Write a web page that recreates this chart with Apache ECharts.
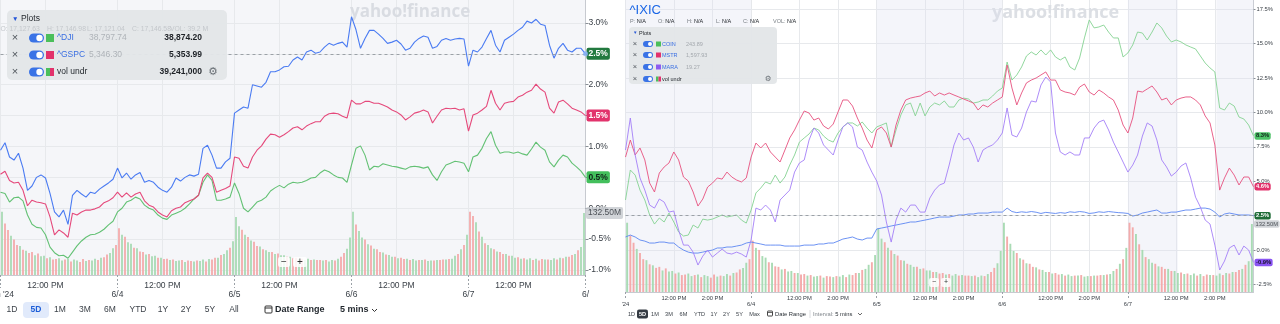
<!DOCTYPE html>
<html>
<head>
<meta charset="utf-8">
<title>Yahoo Finance comparison charts</title>
<script src="https://cdn.jsdelivr.net/npm/echarts@6.0.0/dist/echarts.min.js"></script>
<style>
html,body{margin:0;padding:0;background:#ffffff;overflow:hidden;}
#chart{width:1280px;height:324px;}
</style>
</head>
<body>
<div id="chart"></div>
<script>
// ================= DATA =================
const dayLabelsLeft = ["Jun '24", '6/4', '6/5', '6/6', '6/7', '6/'];
const dayLabelsRight = ["'24", '6/4', '6/5', '6/6', '6/7'];
const timeLabelsLeft = ['12:00 PM'];
const timeLabelsRight = ['12:00 PM', '2:00 PM'];
const pctTicksLeft = [-1, -0.5, 0, 0.5, 1, 1.5, 2, 2.5, 3];
const pctTicksRight = [-2.5, 0, 2.5, 5, 7.5, 10, 12.5, 15, 17.5];

// % change, one value every 15 minutes (26 per session, 5 sessions + close)
const leftIXIC = [
  0.94,1.06,0.83,0.78,0.89,0.65,0.29,0.36,0.50,0.54,0.49,0.24,-0.06,-0.14,-0.03,-0.26,0.21,0.29,0.23,0.18,0.26,0.24,0.31,0.36,0.41,0.47,0.65,
  0.49,0.57,0.47,0.54,0.58,0.42,0.45,0.42,0.34,0.29,0.26,0.34,0.49,0.44,0.50,0.54,0.52,0.55,0.97,1.02,0.86,0.65,0.65,0.75,0.81,1.54,
  1.59,1.64,1.62,2.00,1.98,1.96,2.04,2.21,2.21,2.24,2.29,2.30,2.40,2.45,2.40,2.53,2.56,2.51,2.53,2.61,2.67,2.64,2.67,2.69,2.61,3.10,
  2.89,2.59,2.75,2.88,2.88,2.82,2.75,2.67,2.69,2.72,2.66,2.56,2.59,2.69,2.75,2.79,2.77,2.59,2.62,2.72,2.75,2.72,2.74,2.75,2.74,2.30,
  2.56,2.53,2.61,2.75,2.88,2.64,2.53,2.72,2.77,2.82,2.88,2.93,3.03,3.00,3.06,2.98,2.96,2.64,2.43,2.59,2.67,2.56,2.53,2.59,2.59,2.50
];
const leftGSPC = [
  0.55,0.60,0.45,0.41,0.42,0.29,0.04,0.13,0.10,0.09,0.07,-0.14,-0.43,-0.35,-0.40,-0.47,-0.08,-0.11,-0.06,-0.03,-0.03,-0.01,0.02,0.09,0.12,0.17,0.26,
  0.18,0.25,0.18,0.23,0.26,0.12,0.05,0.02,-0.06,-0.11,-0.14,-0.04,0.00,0.02,0.09,0.12,0.15,0.21,0.49,0.57,0.50,0.26,0.29,0.32,0.36,0.83,
  0.81,0.68,0.65,0.83,0.94,1.01,1.12,1.20,1.19,1.15,1.19,1.24,1.30,1.32,1.27,1.33,1.37,1.40,1.40,1.49,1.53,1.54,1.53,1.49,1.46,1.75,
  1.69,1.69,1.73,1.73,1.70,1.70,1.67,1.64,1.59,1.56,1.51,1.43,1.48,1.54,1.56,1.59,1.56,1.38,1.49,1.59,1.62,1.61,1.62,1.59,1.61,1.25,
  1.51,1.54,1.59,1.65,1.91,1.70,1.59,1.70,1.72,1.73,1.80,1.83,1.88,1.91,2.01,1.93,1.88,1.62,1.54,1.72,1.75,1.69,1.62,1.59,1.56,1.50
];
const leftDJI = [
  0.26,0.24,0.10,0.17,0.18,0.12,-0.11,-0.26,-0.31,-0.32,-0.43,-0.63,-0.72,-0.77,-0.76,-0.81,-0.71,-0.61,-0.53,-0.47,-0.43,-0.42,-0.39,-0.34,-0.27,-0.21,-0.06,
  0.00,0.10,0.13,0.18,0.15,0.05,0.00,-0.03,-0.11,-0.16,-0.18,-0.11,-0.08,-0.05,0.00,0.07,0.15,0.21,0.42,0.54,0.45,0.13,0.13,0.15,0.18,0.41,
  0.24,0.00,-0.06,0.02,0.10,0.13,0.18,0.28,0.33,0.37,0.33,0.39,0.42,0.41,0.42,0.45,0.49,0.50,0.57,0.62,0.59,0.54,0.50,0.49,0.42,0.70,
  0.97,1.01,0.86,0.62,0.68,0.67,0.72,0.70,0.68,0.67,0.65,0.63,0.67,0.68,0.67,0.65,0.67,0.54,0.45,0.59,0.70,0.73,0.76,0.75,0.73,0.59,
  0.83,0.86,0.97,1.13,1.24,1.02,0.89,0.91,0.91,0.89,0.91,0.88,0.86,0.96,1.07,0.99,0.94,0.75,0.67,0.78,0.86,0.83,0.73,0.67,0.60,0.50
];
const rightIXIC = [
  0.95,1.09,0.95,0.73,0.65,0.51,0.51,0.58,0.58,0.51,0.51,0.22,0.00,-0.15,-0.22,-0.22,-0.15,-0.07,0.00,0.15,0.15,0.22,0.22,0.29,0.36,0.51,0.58,
  0.51,0.44,0.36,0.36,0.36,0.36,0.29,0.29,0.29,0.29,0.36,0.36,0.36,0.44,0.44,0.51,0.51,0.65,0.80,0.87,0.95,0.80,0.73,0.87,0.87,1.53,
  1.60,1.67,1.75,1.82,1.89,1.96,2.04,2.04,2.11,2.18,2.25,2.33,2.40,2.40,2.40,2.47,2.55,2.55,2.62,2.62,2.69,2.69,2.69,2.76,2.76,2.76,
  3.05,2.80,2.72,2.78,2.74,2.80,2.75,2.66,2.74,2.70,2.66,2.72,2.68,2.78,2.74,2.80,2.76,2.66,2.70,2.78,2.74,2.80,2.76,2.72,2.70,2.66,
  2.47,2.55,2.69,2.76,2.84,2.91,2.69,2.69,2.76,2.76,2.84,2.91,2.91,2.98,3.05,3.05,2.98,2.76,2.40,2.62,2.69,2.62,2.55,2.55,2.55,2.50
];
const rightCOIN = [
  3.64,5.82,5.45,4.36,3.64,2.55,1.89,2.33,2.04,2.69,2.04,1.31,1.02,1.09,1.82,1.60,2.25,2.18,2.25,2.40,2.55,2.40,2.47,2.55,2.18,1.96,2.91,
  4.15,4.51,4.95,4.80,5.45,4.87,5.31,6.18,6.91,7.85,8.15,8.44,8.87,8.73,8.29,8.00,7.85,8.51,8.95,9.24,9.24,9.02,9.31,8.87,8.51,8.95,
  9.09,9.24,7.49,8.73,9.82,10.55,10.69,9.75,10.69,9.75,10.40,10.69,10.55,10.84,10.40,10.40,10.91,11.05,10.98,10.69,10.76,10.91,10.91,11.20,11.56,11.78,
  13.67,12.36,12.73,13.31,14.11,14.40,14.18,14.55,14.18,14.55,14.04,13.82,14.04,13.31,13.09,13.96,15.42,16.73,16.15,16.22,16.36,15.85,15.42,15.42,14.04,14.33,
  14.91,15.85,15.78,15.27,15.85,16.51,16.15,15.56,15.13,15.27,15.13,14.91,14.76,14.62,14.11,13.60,13.24,12.95,10.33,10.18,10.69,10.47,9.67,9.53,9.09,8.30
];
const rightMSTR = [
  6.76,8.00,6.91,7.42,6.55,4.87,4.22,5.60,6.04,6.33,7.13,6.55,5.31,5.02,4.22,3.20,3.71,4.58,4.87,5.24,5.16,5.67,5.31,5.09,4.95,5.24,6.76,
  7.78,7.42,7.78,7.13,6.76,6.40,7.27,8.15,8.73,9.45,10.11,9.96,9.45,9.60,9.02,8.80,9.16,10.04,10.91,10.91,10.47,9.60,8.87,8.00,7.42,8.73,
  8.95,8.51,7.49,9.09,10.18,10.91,11.05,11.13,11.20,11.42,11.56,11.20,11.42,11.27,11.42,11.27,11.13,10.98,10.84,10.69,10.18,10.55,10.40,10.69,10.91,11.13,
  13.45,11.78,10.55,11.42,12.15,12.36,12.51,12.73,12.95,12.36,12.36,11.64,11.49,11.42,11.27,11.85,12.07,11.49,11.27,11.64,11.42,11.13,10.91,10.18,9.09,8.51,
  9.60,11.56,11.49,11.71,11.93,11.49,10.91,11.05,10.55,10.91,11.05,11.13,11.13,10.91,10.55,9.75,9.24,7.64,4.36,5.24,5.96,5.45,4.73,5.31,5.31,4.60
];
const rightMARA = [
  7.27,9.60,6.91,5.24,4.36,3.27,3.05,3.71,3.49,2.76,2.84,1.45,0.36,0.36,-0.15,-1.09,-0.44,0.00,-0.51,-0.22,0.07,-0.22,-0.29,-0.15,-0.29,-0.51,0.73,
  3.05,2.91,3.27,2.91,2.04,3.64,4.00,4.36,5.67,6.33,6.55,8.00,8.87,8.51,7.64,7.27,6.91,8.00,8.95,9.24,8.95,7.49,7.27,6.40,5.67,5.02,
  4.00,2.04,0.58,2.18,3.05,2.76,3.27,3.27,2.76,2.76,3.78,4.36,4.73,4.87,6.18,7.64,8.51,8.00,8.15,7.49,6.40,7.27,7.49,7.64,8.00,8.51,
  10.33,8.36,8.22,8.87,10.04,10.84,10.76,12.00,12.58,12.22,8.51,7.13,6.91,7.13,6.91,6.91,8.15,8.15,8.87,9.31,9.45,8.73,7.85,7.13,6.40,5.67,
  6.18,6.91,8.29,9.24,9.02,8.00,6.55,6.04,5.38,5.67,6.11,6.33,5.24,3.85,3.13,2.18,1.89,0.36,-1.45,-0.80,0.15,0.36,-0.36,0.29,0.00,-0.90
];
// volume (millions of shares) per 10-minute slot, 39 per session
const volume = [
  135,110,96,84,76,64,62,54,52,47,49,42,46,40,41,36,38,33,34,36,31,33,34,29,33,31,28,34,30,32,31,35,32,37,38,44,47,57,64,
  100,86,82,70,67,58,57,50,49,44,45,40,41,37,37,34,35,32,33,30,31,32,28,31,30,29,31,30,33,29,34,33,37,37,43,45,53,58,72,
  124,104,97,86,81,74,71,62,61,55,53,49,49,45,46,42,42,39,39,36,37,34,35,32,35,32,33,32,32,31,32,29,32,31,35,39,47,56,80,
  135,108,94,80,76,66,63,56,55,49,48,44,43,39,39,36,37,34,35,32,34,31,32,32,33,30,31,31,32,32,33,33,34,35,41,45,55,64,86,
  135,126,113,93,82,68,64,57,55,50,49,45,45,41,41,37,38,35,36,33,36,32,35,31,34,33,33,32,36,33,37,36,39,39,43,45,53,60,132.5
];
// 1 = up bar (green), 0 = down bar (red)
const volumeUp =
  '100100101001011010011010110010110100110' +
  '010110100101101001011010010110100101101' +
  '110101001011010110100101101001011010011' +
  '101101010010110100101101011010010110101' +
  '001010110100101101011010010110101001011';

const legendLeft = [
  { name: '^DJI', prev: '38,797.74', last: '38,874.20', sw: ['#4bbf5b'] },
  { name: '^GSPC', prev: '5,346.30', last: '5,353.99', sw: ['#e2326c'] },
  { name: 'vol undr', prev: '', last: '39,241,000', sw: ['#4bbf5b', '#e2326c'], gear: true }
];
const ohlcLeft = ['O: 17,127.63', 'H: 17,146.98', 'L: 17,121.04', 'C: 17,146.58', 'VOL: 39.2 M'];
const legendRight = [
  { name: 'COIN', prev: '243.89', sw: ['#4bbf5b'] },
  { name: 'MSTR', prev: '1,597.93', sw: ['#e2326c'] },
  { name: 'MARA', prev: '19.27', sw: ['#8e5cf0'] },
  { name: 'vol undr', prev: '', sw: ['#4bbf5b', '#e2326c'], gear: true }
];
const ohlcRight = ['P:', 'O:', 'H:', 'L:', 'C:', 'VOL:'];
const rangesLeft = ['1D', '5D', '1M', '3M', '6M', 'YTD', '1Y', '2Y', '5Y', 'All'];
const rangesRight = ['1D', '5D', '1M', '3M', '6M', 'YTD', '1Y', '2Y', '5Y', 'Max'];

// ================= CHART =================
const BARS_PER_DAY = 78, LINE_STEP = 3, VOL_STEP = 2, NDAYS = 5;
const TOTAL = BARS_PER_DAY * NDAYS;
const NOON = 30, TWO_PM = 54;
const FONT = '"Liberation Sans", Arial, Helvetica, sans-serif';

const dayStarts = n => Array.from({ length: n }, (_, i) => i * BARS_PER_DAY);
const dayTicksLeft = dayStarts(NDAYS + 1);
const dayTicksRight = dayStarts(NDAYS);
const noonTicks = dayStarts(NDAYS).map(d => d + NOON);
const timeTicksRight = dayStarts(NDAYS).flatMap(d => [d + NOON, d + TWO_PM]);

const toPts = arr => arr.map((v, i) => [i * LINE_STEP, v]);
const GREEN_V = '#a9dbb4', RED_V = '#f4abab';
const volPts = volume.map((v, i) => ({ value: [i * VOL_STEP + 1, v], itemStyle: { color: volumeUp[i] === '1' ? GREEN_V : RED_V } }));
const lastVol = volume[volume.length - 1];

const AX = '#c7cad0', GRIDC = '#e7e9ec', TXT = '#3b4148';

function xTimeAxis(grid, ticks, fmt, fs, margin) {
  return {
    gridIndex: grid, type: 'value', position: 'bottom', min: 0, max: TOTAL,
    axisLine: { show: true, onZero: false, lineStyle: { color: AX } },
    axisTick: { show: false, customValues: ticks },
    axisLabel: { customValues: ticks, formatter: fmt, margin, fontSize: fs, color: TXT, fontFamily: FONT },
    splitLine: { show: true, lineStyle: { color: GRIDC, width: 1 } }
  };
}
function xDayAxis(grid, ticks, labels, fs, margin, tickLen) {
  return {
    gridIndex: grid, type: 'value', position: 'bottom', offset: 0, min: 0, max: TOTAL,
    axisLine: { show: false, onZero: false },
    axisTick: { show: true, customValues: ticks, length: tickLen, lineStyle: { color: '#9ba1a7', type: [2, 2] } },
    axisLabel: { customValues: ticks, formatter: v => labels[Math.round(v / BARS_PER_DAY)], margin, fontSize: fs, color: TXT, fontFamily: FONT },
    splitLine: { show: true, lineStyle: { color: GRIDC, width: 1 } }
  };
}
function yPctAxis(grid, min, max, ticks, fs, tickLen) {
  return {
    gridIndex: grid, type: 'value', position: 'right', min, max,
    axisLine: { show: true, onZero: false, lineStyle: { color: AX } },
    axisTick: { show: true, customValues: ticks, length: tickLen, lineStyle: { color: '#8a9097' } },
    axisLabel: { customValues: ticks, formatter: v => v.toFixed(1) + '%', margin: 3, fontSize: fs, color: TXT, fontFamily: FONT },
    splitLine: { show: true, lineStyle: { color: GRIDC, width: 1 } }
  };
}
function line(name, data, color, xi, yi, width, lbl) {
  return {
    name, type: 'line', xAxisIndex: xi, yAxisIndex: yi, data: toPts(data),
    showSymbol: false, symbol: 'none', silent: true, z: 3,
    lineStyle: { color, width }, itemStyle: { color },
    endLabel: Object.assign({
      show: true, formatter: p => p.value[1].toFixed(1) + '%', fontWeight: 'bold',
      fontFamily: FONT, borderRadius: 2, distance: 1
    }, lbl)
  };
}
const dashed = (v) => ({
  silent: true, symbol: 'none', label: { show: false },
  lineStyle: { color: '#9ba1a7', type: [3, 3], width: 1 }, data: [{ yAxis: v }]
});
function volLabel(xi, yi, fs, pad) {
  return {
    type: 'scatter', xAxisIndex: xi, yAxisIndex: yi, data: [[TOTAL, lastVol]], symbolSize: 1,
    itemStyle: { color: 'rgba(0,0,0,0)' }, silent: true, z: 8,
    label: {
      show: true, position: 'right', distance: 0, formatter: p => p.value[1].toFixed(2) + 'M',
      backgroundColor: '#c6c9ce', color: '#2b3036', fontSize: fs, fontFamily: FONT, padding: pad, borderRadius: 2
    }
  };
}

const lblL = (bg, fg) => ({ backgroundColor: bg, color: fg, fontSize: 8.5, padding: [2, 2, 1, 2] });
const lblR = (bg, fg) => ({ backgroundColor: bg, color: fg, fontSize: 5.8, padding: [1, 1.5, 0.5, 1.5] });

const series = [
  { type: 'bar', xAxisIndex: 0, yAxisIndex: 1, data: volPts, barWidth: 1.8, silent: true, z: 1 },
  line('^DJI', leftDJI, '#63c174', 0, 0, 1.1, lblL('#43bf5c', '#10231a')),
  line('^GSPC', leftGSPC, '#e5497b', 0, 0, 1.1, lblL('#e2336c', '#ffffff')),
  Object.assign(line('^IXIC', leftIXIC, '#4a7bf2', 0, 0, 1.1, lblL('#22793f', '#ffffff')), { markLine: dashed(leftIXIC[leftIXIC.length - 1]) }),
  { type: 'scatter', xAxisIndex: 0, yAxisIndex: 0, data: [[TOTAL, leftIXIC[leftIXIC.length - 1]]], symbolSize: 5, itemStyle: { color: '#86b1f7' }, silent: true, z: 6 },
  volLabel(0, 1, 8.5, [2, 2, 1, 2]),

  { type: 'bar', xAxisIndex: 2, yAxisIndex: 3, data: volPts, barWidth: 1.9, silent: true, z: 1,
    markArea: { silent: true, itemStyle: { color: 'rgba(220,224,240,0.32)' },
      data: [[{ xAxis: 0 }, { xAxis: BARS_PER_DAY }], [{ xAxis: 2 * BARS_PER_DAY }, { xAxis: 3 * BARS_PER_DAY }],
             [{ xAxis: 4 * BARS_PER_DAY }, { xAxis: 4 * BARS_PER_DAY + NOON + 1 }], [{ xAxis: 4 * BARS_PER_DAY + TWO_PM + 1 }, { xAxis: TOTAL }]] } },
  Object.assign(line('^IXIC', rightIXIC, '#5b86f2', 2, 2, 0.9, lblR('#1f6d37', '#ffffff')), { markLine: dashed(rightIXIC[rightIXIC.length - 1]) }),
  line('COIN', rightCOIN, '#84d292', 2, 2, 0.9, lblR('#4cc267', '#10231a')),
  line('MSTR', rightMSTR, '#e6507e', 2, 2, 0.9, lblR('#e2336c', '#ffffff')),
  line('MARA', rightMARA, '#a47ff7', 2, 2, 0.9, lblR('#8a55f2', '#15102a')),
  volLabel(2, 3, 5.8, [1, 1.5, 0.5, 1.5])
];

// ---------- decorations (legend panels, buttons, watermark) ----------
const G = [];
const T = (x, y, text, o = {}) => G.push({ type: 'text', x, y, z: o.z || 30, silent: true,
  style: { text, fill: o.fill || '#333', fontSize: o.fs || 8.5, fontWeight: o.fw || 'normal', fontFamily: o.ff || FONT,
           align: o.al || 'left', verticalAlign: 'middle', rich: o.rich } });
const R = (x, y, w, h, r, fill, z = 25, stroke) => G.push({ type: 'rect', z, silent: true, shape: { x, y, width: w, height: h, r },
  style: { fill, stroke: stroke || null, lineWidth: stroke ? 1 : 0 } });
const C = (cx, cy, r, fill, z = 31) => G.push({ type: 'circle', z, silent: true, shape: { cx, cy, r }, style: { fill } });
const P = (pts, stroke, w, z = 31) => G.push({ type: 'polyline', z, silent: true, shape: { points: pts }, style: { stroke, lineWidth: w, fill: null } });

// watermarks
T(350, 12, 'yahoo!finance', { fs: 17, fw: 'bold', fill: '#d9dce2', z: 1, ff: '"Open Sans", "DejaVu Sans", sans-serif' });
T(992, 13, 'yahoo!finance', { fs: 18, fw: 'bold', fill: '#dcdfe4', z: 1, ff: '"Open Sans", "DejaVu Sans", sans-serif' });

// left legend panel
R(7, 10, 220, 70, 5, 'rgba(227,230,232,0.96)', 20);
T(12, 19, '▼', { fs: 6.5, fill: '#2556d8' });
T(21, 19, 'Plots', { fs: 8.5, fill: '#1f2429' });
[0.5, 47, 87, 132, 170].forEach((x, i) => T(x, 29, ohlcLeft[i], { fs: 6.8, fill: '#c3c7cb' }));
legendLeft.forEach((r, i) => {
  const y = 38 + i * 17;
  T(15, y, '×', { fs: 11, fill: '#50565c', al: 'center' });
  R(29, y - 4.5, 15, 9, 4.5, '#3a73e6', 30); C(39.5, y, 3.2, '#ffffff');
  if (r.sw.length === 1) R(46, y - 4, 8, 8, 0, r.sw[0], 30);
  else { R(46, y - 4, 4, 8, 0, r.sw[0], 30); R(50, y - 4, 4, 8, 0, r.sw[1], 30); }
  T(57, y, r.name, { fs: 8.5, fill: r.gear ? '#1f2429' : '#3a6fe2' });
  if (r.prev) T(89, y, r.prev, { fs: 8.5, fill: '#aeb3b8' });
  T(202, y, r.last, { fs: 8.5, fw: 'bold', fill: '#1d2126', al: 'right' });
  if (r.gear) T(213, y, '⚙', { fs: 11, fill: '#6a7076', al: 'center', ff: '"DejaVu Sans", sans-serif' });
});
// left zoom buttons
R(278, 257, 12, 10, 2, 'rgba(255,255,255,0.85)', 25); T(284, 262, '−', { fs: 10, fill: '#333', al: 'center' });
R(293, 257, 14, 10, 2, 'rgba(255,255,255,0.85)', 25); T(300, 262, '+', { fs: 10, fill: '#333', al: 'center' });
// left range bar
R(23, 302, 26, 16, 4, '#e1eafb', 25);
[12, 36, 60, 85, 110, 138, 163, 186, 210, 234].forEach((x, i) =>
  T(x, 310, rangesLeft[i], { fs: 8.5, al: 'center', fw: i === 1 ? 'bold' : 'normal', fill: i === 1 ? '#1d5ed8' : '#3d434a' }));
R(265, 306, 7, 7, 1, null, 30, '#333'); P([[265, 308], [272, 308]], '#333', 1);
T(275, 310, 'Date Range', { fs: 9, fw: 'bold', fill: '#1f252b' });
T(340, 310, '5 mins', { fs: 9, fw: 'bold', fill: '#1f252b' });
P([[372, 309], [374.5, 311.5], [377, 309]], '#333', 1);

// right header
T(629.5, 10, '^IXIC', { fs: 13, fill: '#1a66e6' });
[630, 658, 687, 716, 743, 773].forEach((x, i) =>
  T(x, 21, '{a|' + ohlcRight[i] + '} {b|N/A}', { fs: 5.5, rich: { a: { fill: '#7a8086', fontSize: 5.5, fontFamily: FONT }, b: { fill: '#22272c', fontSize: 5.5, fontFamily: FONT } } }));
// right legend panel
R(629, 27, 148, 57, 4, 'rgba(227,230,232,0.96)', 20);
T(633, 33, '▼', { fs: 4.5, fill: '#2556d8' });
T(639, 33, 'Plots', { fs: 5.5, fill: '#1f2429' });
legendRight.forEach((r, i) => {
  const y = [44, 55, 67, 79][i];
  T(635, y, '×', { fs: 7.5, fill: '#50565c', al: 'center' });
  R(643, y - 3, 10, 6, 3, '#3a73e6', 30); C(650, y, 2, '#ffffff');
  if (r.sw.length === 1) R(656, y - 2.5, 5, 5, 0, r.sw[0], 30);
  else { R(656, y - 2.5, 2.5, 5, 0, r.sw[0], 30); R(658.5, y - 2.5, 2.5, 5, 0, r.sw[1], 30); }
  T(662, y, r.name, { fs: 5.5, fill: r.gear ? '#1f2429' : '#3a6fe2' });
  if (r.prev) T(686, y, r.prev, { fs: 5.5, fill: '#a3a8ad' });
  if (r.gear) T(768, y, '⚙', { fs: 7.5, fill: '#6a7076', al: 'center', ff: '"DejaVu Sans", sans-serif' });
});
// right zoom buttons
R(929, 278, 10, 9, 2, 'rgba(255,255,255,0.85)', 25); T(934, 282.5, '−', { fs: 7, fill: '#333', al: 'center' });
R(941, 278, 10, 9, 2, 'rgba(255,255,255,0.85)', 25); T(946, 282.5, '+', { fs: 7, fill: '#333', al: 'center' });
// right range bar
R(637, 309.5, 11, 9, 2, '#343a42', 25);
[631.5, 642.5, 655, 669, 683.5, 699.5, 714, 726.5, 739.5, 754.5].forEach((x, i) =>
  T(x, 314, rangesRight[i], { fs: 5.6, al: 'center', fill: i === 1 ? '#ffffff' : '#3d434a', fw: i === 1 ? 'bold' : 'normal' }));
R(767.5, 311, 5, 5, 0.5, null, 30, '#444'); P([[767.5, 312.5], [772.5, 312.5]], '#444', 0.8);
T(775, 314, 'Date Range', { fs: 5.8, fill: '#2a3036' });
P([[810, 310], [810, 318]], '#d0d3d7', 0.8);
T(813, 314, '{a|Interval:} {b|5 mins}', { fs: 5.8, rich: { a: { fill: '#80868c', fontSize: 5.8, fontFamily: FONT }, b: { fill: '#2a3036', fontSize: 5.8, fontFamily: FONT } } });
P([[858, 313], [860, 315], [862, 313]], '#444', 0.8);

const option = {
  animation: false,
  backgroundColor: '#ffffff',
  textStyle: { fontFamily: FONT },
  grid: [
    { left: 0.5, top: 0, width: 585, height: 275, show: true, backgroundColor: '#f5f6f9', borderWidth: 0, containLabel: false, outerBoundsMode: 'none' },
    { left: 625.5, top: 0, width: 628, height: 292, show: false, containLabel: false, outerBoundsMode: 'none' }
  ],
  xAxis: [
    xTimeAxis(0, noonTicks, () => timeLabelsLeft[0], 8.5, 6),
    xDayAxis(0, dayTicksLeft, dayLabelsLeft, 8.5, 15, 13),
    xTimeAxis(1, timeTicksRight, v => timeLabelsRight[(v % BARS_PER_DAY) === NOON ? 0 : 1], 5.8, 3),
    xDayAxis(1, dayTicksRight, dayLabelsRight, 5.8, 9.5, 8)
  ],
  yAxis: [
    yPctAxis(0, -1.081, 3.372, pctTicksLeft, 8.5, 3),
    { gridIndex: 0, type: 'value', min: 0, max: 588, show: false },
    yPctAxis(1, -3.05, 18.18, pctTicksRight, 5.8, 2),
    { gridIndex: 1, type: 'value', min: 0, max: 569, show: false }
  ],
  series,
  graphic: { elements: G }
};

const chart = echarts.init(document.getElementById('chart'), null, { renderer: 'canvas', width: 1280, height: 324 });
chart.setOption(option);
</script>
</body>
</html>
